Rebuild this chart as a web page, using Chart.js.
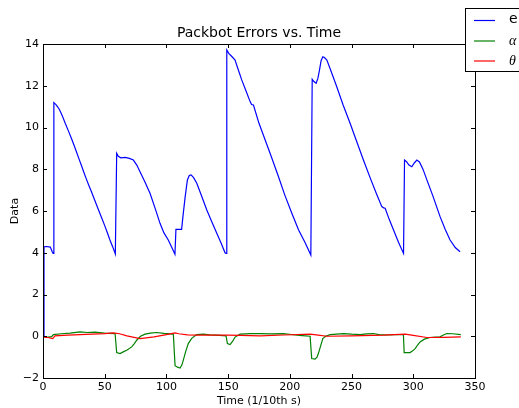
<!DOCTYPE html>
<html>
<head>
<meta charset="utf-8">
<script src="https://cdn.jsdelivr.net/npm/chart.js@4.4.1/dist/chart.umd.min.js"></script>
<style>
  html, body { margin: 0; padding: 0; background: #fff; }
  canvas { display: block; }
</style>
</head>
<body>
<canvas id="c" width="519" height="408"></canvas>
<script>
// ---- data ----
const titleText = 'Packbot Errors vs. Time';
const xLabel = 'Time (1/10th s)';
const yLabel = 'Data';
const seriesNames = ['e', 'α', 'θ'];
const xTicks = [0, 50, 100, 150, 200, 250, 300, 350];
const yTicks = [-2, 0, 2, 4, 6, 8, 10, 12, 14];

const errX = [0, 0.8, 3, 5.9, 7.5, 8.2, 8.8, 10.5, 12, 13.5, 15.5, 18, 20.5, 22.9, 25, 27, 29, 31, 33, 35, 37, 39.1, 42, 45, 47.5, 50, 52, 54, 56.5, 58.6,
  59.7, 61, 63, 66.5, 70, 73.2, 76, 78.6, 82.5, 86.7, 91, 94.8, 98, 101.5, 104, 106.9,
  107.7, 110, 112.3, 113.5, 115.2, 117, 118.5, 120, 122, 124.6, 128.5, 132.7, 137, 140.8, 144, 147.5, 148.3,
  148.9, 150.5, 153, 155.6, 158, 161, 164.5, 167.8, 169, 170.5, 175, 180, 185, 190.8, 196, 201.6, 207, 212.4, 217,
  218.1, 219.5, 221.3, 222.7, 224, 225.3, 226.7, 228, 230, 234, 238, 243, 248.8, 254, 259.6, 265, 270, 274.5, 276, 277.2, 280.5, 284, 288, 292.1,
  292.9, 294.5, 296.5, 298.8, 300.8, 302.9, 305, 308, 311, 316, 321.7, 326, 329.8, 334, 337.9];
const errY = [0, 4.29, 4.30, 4.27, 4.05, 3.97, 11.19, 11.10, 10.98, 10.84, 10.58, 10.2, 9.85, 9.5, 9.17, 8.85, 8.52, 8.2, 7.87, 7.55, 7.25, 6.95, 6.5, 6.05, 5.68, 5.3, 4.98, 4.65, 4.28, 3.94,
  8.76, 8.62, 8.55, 8.57, 8.52, 8.44, 8.2, 7.88, 7.4, 6.85, 6.1, 5.41, 4.95, 4.61, 4.3, 3.93,
  5.12, 5.12, 5.12, 5.8, 6.69, 7.49, 7.7, 7.73, 7.6, 7.33, 6.72, 6.05, 5.45, 4.93, 4.5, 4.0, 3.97,
  13.71, 13.55, 13.4, 13.23, 12.8, 12.28, 11.75, 11.24, 11.1, 11.08, 10.2, 9.4, 8.6, 7.64, 6.75, 5.89, 5.1, 4.48, 3.89,
  12.31, 12.2, 12.12, 12.35, 12.75, 13.2, 13.39, 13.35, 13.23, 12.6, 11.95, 11.1, 10.2, 9.35, 8.44, 7.6, 6.85, 6.21, 6.15, 6.13, 5.6, 5.09, 4.5, 3.97,
  8.44, 8.36, 8.2, 8.12, 8.3, 8.44, 8.35, 7.98, 7.49, 6.7, 5.73, 5.1, 4.61, 4.25, 4.05];

const alphaX = [0, 3, 7, 8.4, 15, 22, 30, 36, 42, 50, 58.4, 59.7, 62.4, 65, 67.8, 71.9, 74, 75.9, 79, 82.7, 87, 92.1, 98, 105.6,
  107, 109, 111, 112.5, 113.7, 115.5, 117.7, 120.5, 124.5, 130, 135, 140.7, 148.3, 149.4, 151.6, 153.5, 155.6, 159.7, 168, 176, 185, 194.8, 204.2, 210, 216.4,
  217.7, 220.4, 222, 223.1, 225, 226.7, 229, 232.6, 243.4, 250, 256.9, 262, 267.7, 272, 278.5, 285, 292,
  292.6, 297.4, 299.5, 301.5, 303.5, 305.5, 309, 313.6, 318, 321.7, 324, 327.1, 332, 338.5];
const alphaY = [0, -0.05, -0.02, 0.08, 0.12, 0.15, 0.21, 0.18, 0.2, 0.15, 0.13, -0.78, -0.83, -0.75, -0.67, -0.51, -0.35, -0.19, 0.0, 0.10, 0.15, 0.18, 0.14, 0.10,
  -1.41, -1.48, -1.52, -1.38, -1.14, -0.75, -0.35, -0.1, 0.08, 0.1, 0.07, 0.05, 0.02, -0.35, -0.40, -0.25, -0.04, 0.10, 0.13, 0.13, 0.11, 0.13, 0.06, 0.03, 0.0,
  -1.07, -1.10, -1.0, -0.83, -0.45, -0.11, 0.0, 0.08, 0.13, 0.1, 0.08, 0.11, 0.13, 0.08, 0.06, 0.08, 0.08,
  -0.78, -0.78, -0.7, -0.59, -0.42, -0.27, -0.14, -0.06, -0.04, -0.03, 0.05, 0.13, 0.12, 0.08];

const thetaX = [0, 4, 7.9, 9.7, 20, 35, 50, 57, 62, 68, 78.6, 90, 100, 107, 110, 117, 124.5, 148.9, 160, 175.9, 195, 216.4, 223, 230, 250, 275.8, 293.4, 300, 311, 325, 338.5];
const thetaY = [-0.04, -0.06, -0.11, 0.02, 0.05, 0.09, 0.13, 0.16, 0.12, 0.02, -0.11, -0.03, 0.08, 0.16, 0.12, 0.07, 0.05, 0.05, 0.04, 0.02, 0.06, 0.10, 0.05, 0.0, 0.02, 0.05, 0.10, 0.04, -0.06, -0.05, -0.03];

const zip = (xs, ys) => xs.map((x, i) => ({ x: x, y: ys[i] }));
const FONT = 'DejaVu Sans';

const frameAndTicks = {
  id: 'frameAndTicks',
  afterDatasetsDraw(chart) {
    const { ctx, chartArea: a, scales } = chart;
    ctx.save();
    ctx.strokeStyle = '#000';
    ctx.lineWidth = 1;
    ctx.strokeRect(Math.round(a.left) + 0.5, Math.round(a.top) + 0.5,
      Math.round(a.right - a.left), Math.round(a.bottom - a.top));
    const L = 4;
    ctx.beginPath();
    scales.x.ticks.forEach(t => {
      const px = Math.round(scales.x.getPixelForValue(t.value)) + 0.5;
      ctx.moveTo(px, a.bottom); ctx.lineTo(px, a.bottom - L);
      ctx.moveTo(px, a.top); ctx.lineTo(px, a.top + L);
    });
    scales.y.ticks.forEach(t => {
      const py = Math.round(scales.y.getPixelForValue(t.value)) + 0.5;
      ctx.moveTo(a.left, py); ctx.lineTo(a.left + L, py);
      ctx.moveTo(a.right, py); ctx.lineTo(a.right - L, py);
    });
    ctx.stroke();
    ctx.restore();
  },
  afterDraw(chart) {
    const { ctx, chartArea: a } = chart;
    const ds = chart.data.datasets;
    ctx.save();
    // title centred over the plot area
    ctx.fillStyle = '#000';
    ctx.font = '14px "DejaVu Sans"';
    ctx.textAlign = 'center';
    ctx.textBaseline = 'middle';
    ctx.fillText(titleText, (a.left + a.right) / 2, a.top - 10.5);
    // legend box in upper right, partly off-canvas like the reference
    const bx = 465.5, by = 8.5, bw = 70, bh = 63;
    ctx.fillStyle = '#fff';
    ctx.fillRect(bx, by, bw, bh);
    ctx.strokeStyle = '#000';
    ctx.lineWidth = 1;
    ctx.strokeRect(bx, by, bw, bh);
    const rows = [20.5, 41, 61];
    ds.forEach((d, i) => {
      ctx.strokeStyle = d.borderColor;
      ctx.lineWidth = 1.2;
      ctx.beginPath();
      ctx.moveTo(474, rows[i]); ctx.lineTo(495, rows[i]);
      ctx.stroke();
      ctx.fillStyle = '#000';
      ctx.textBaseline = 'middle';
      ctx.textAlign = 'left';
      ctx.font = i === 0 ? '14px "DejaVu Sans"' : 'italic 14px "Liberation Serif"';
      ctx.fillText(d.label, 509, rows[i] + (i === 0 ? -1 : 0));
    });
    ctx.restore();
  }
};

new Chart(document.getElementById('c'), {
  type: 'scatter',
  data: {
    datasets: [
      { label: seriesNames[0], data: zip(errX, errY), borderColor: '#0000ff', order: 3 },
      { label: seriesNames[1], data: zip(alphaX, alphaY), borderColor: '#008000', order: 2 },
      { label: seriesNames[2], data: zip(thetaX, thetaY), borderColor: '#ff0000', order: 1 }
    ].map(d => Object.assign(d, { showLine: true, pointRadius: 0, borderWidth: 1.2, tension: 0, fill: false }))
  },
  options: {
    responsive: false,
    animation: false,
    events: [],
    layout: { padding: { left: 0, right: 44, top: 44, bottom: 0 } },
    plugins: {
      legend: { display: false },
      tooltip: { enabled: false },
      title: { display: false }
    },
    scales: {
      x: {
        type: 'linear', min: 0, max: 350,
        afterBuildTicks(s) { s.ticks = xTicks.map(v => ({ value: v })); },
        ticks: { color: '#000', font: { family: FONT, size: 11 }, padding: 3, maxRotation: 0, autoSkip: false },
        grid: { display: false, drawTicks: false },
        border: { display: false },
        title: { display: true, text: xLabel, color: '#000', font: { family: FONT, size: 11 }, padding: { top: 0, bottom: 0 } },
        afterFit(s) { s.height = 30; }
      },
      y: {
        type: 'linear', min: -2, max: 14,
        afterBuildTicks(s) { s.ticks = yTicks.map(v => ({ value: v })); },
        ticks: {
          color: '#000', font: { family: FONT, size: 11 }, padding: 4, autoSkip: false,
          callback: v => String(v).replace('-', '\u2212')
        },
        grid: { display: false, drawTicks: false },
        border: { display: false },
        title: { display: true, text: yLabel, color: '#000', font: { family: FONT, size: 11 }, padding: { top: 9, bottom: 9 } },
        afterFit(s) { s.width = 43; }
      }
    }
  },
  plugins: [frameAndTicks]
});
</script>
</body>
</html>
